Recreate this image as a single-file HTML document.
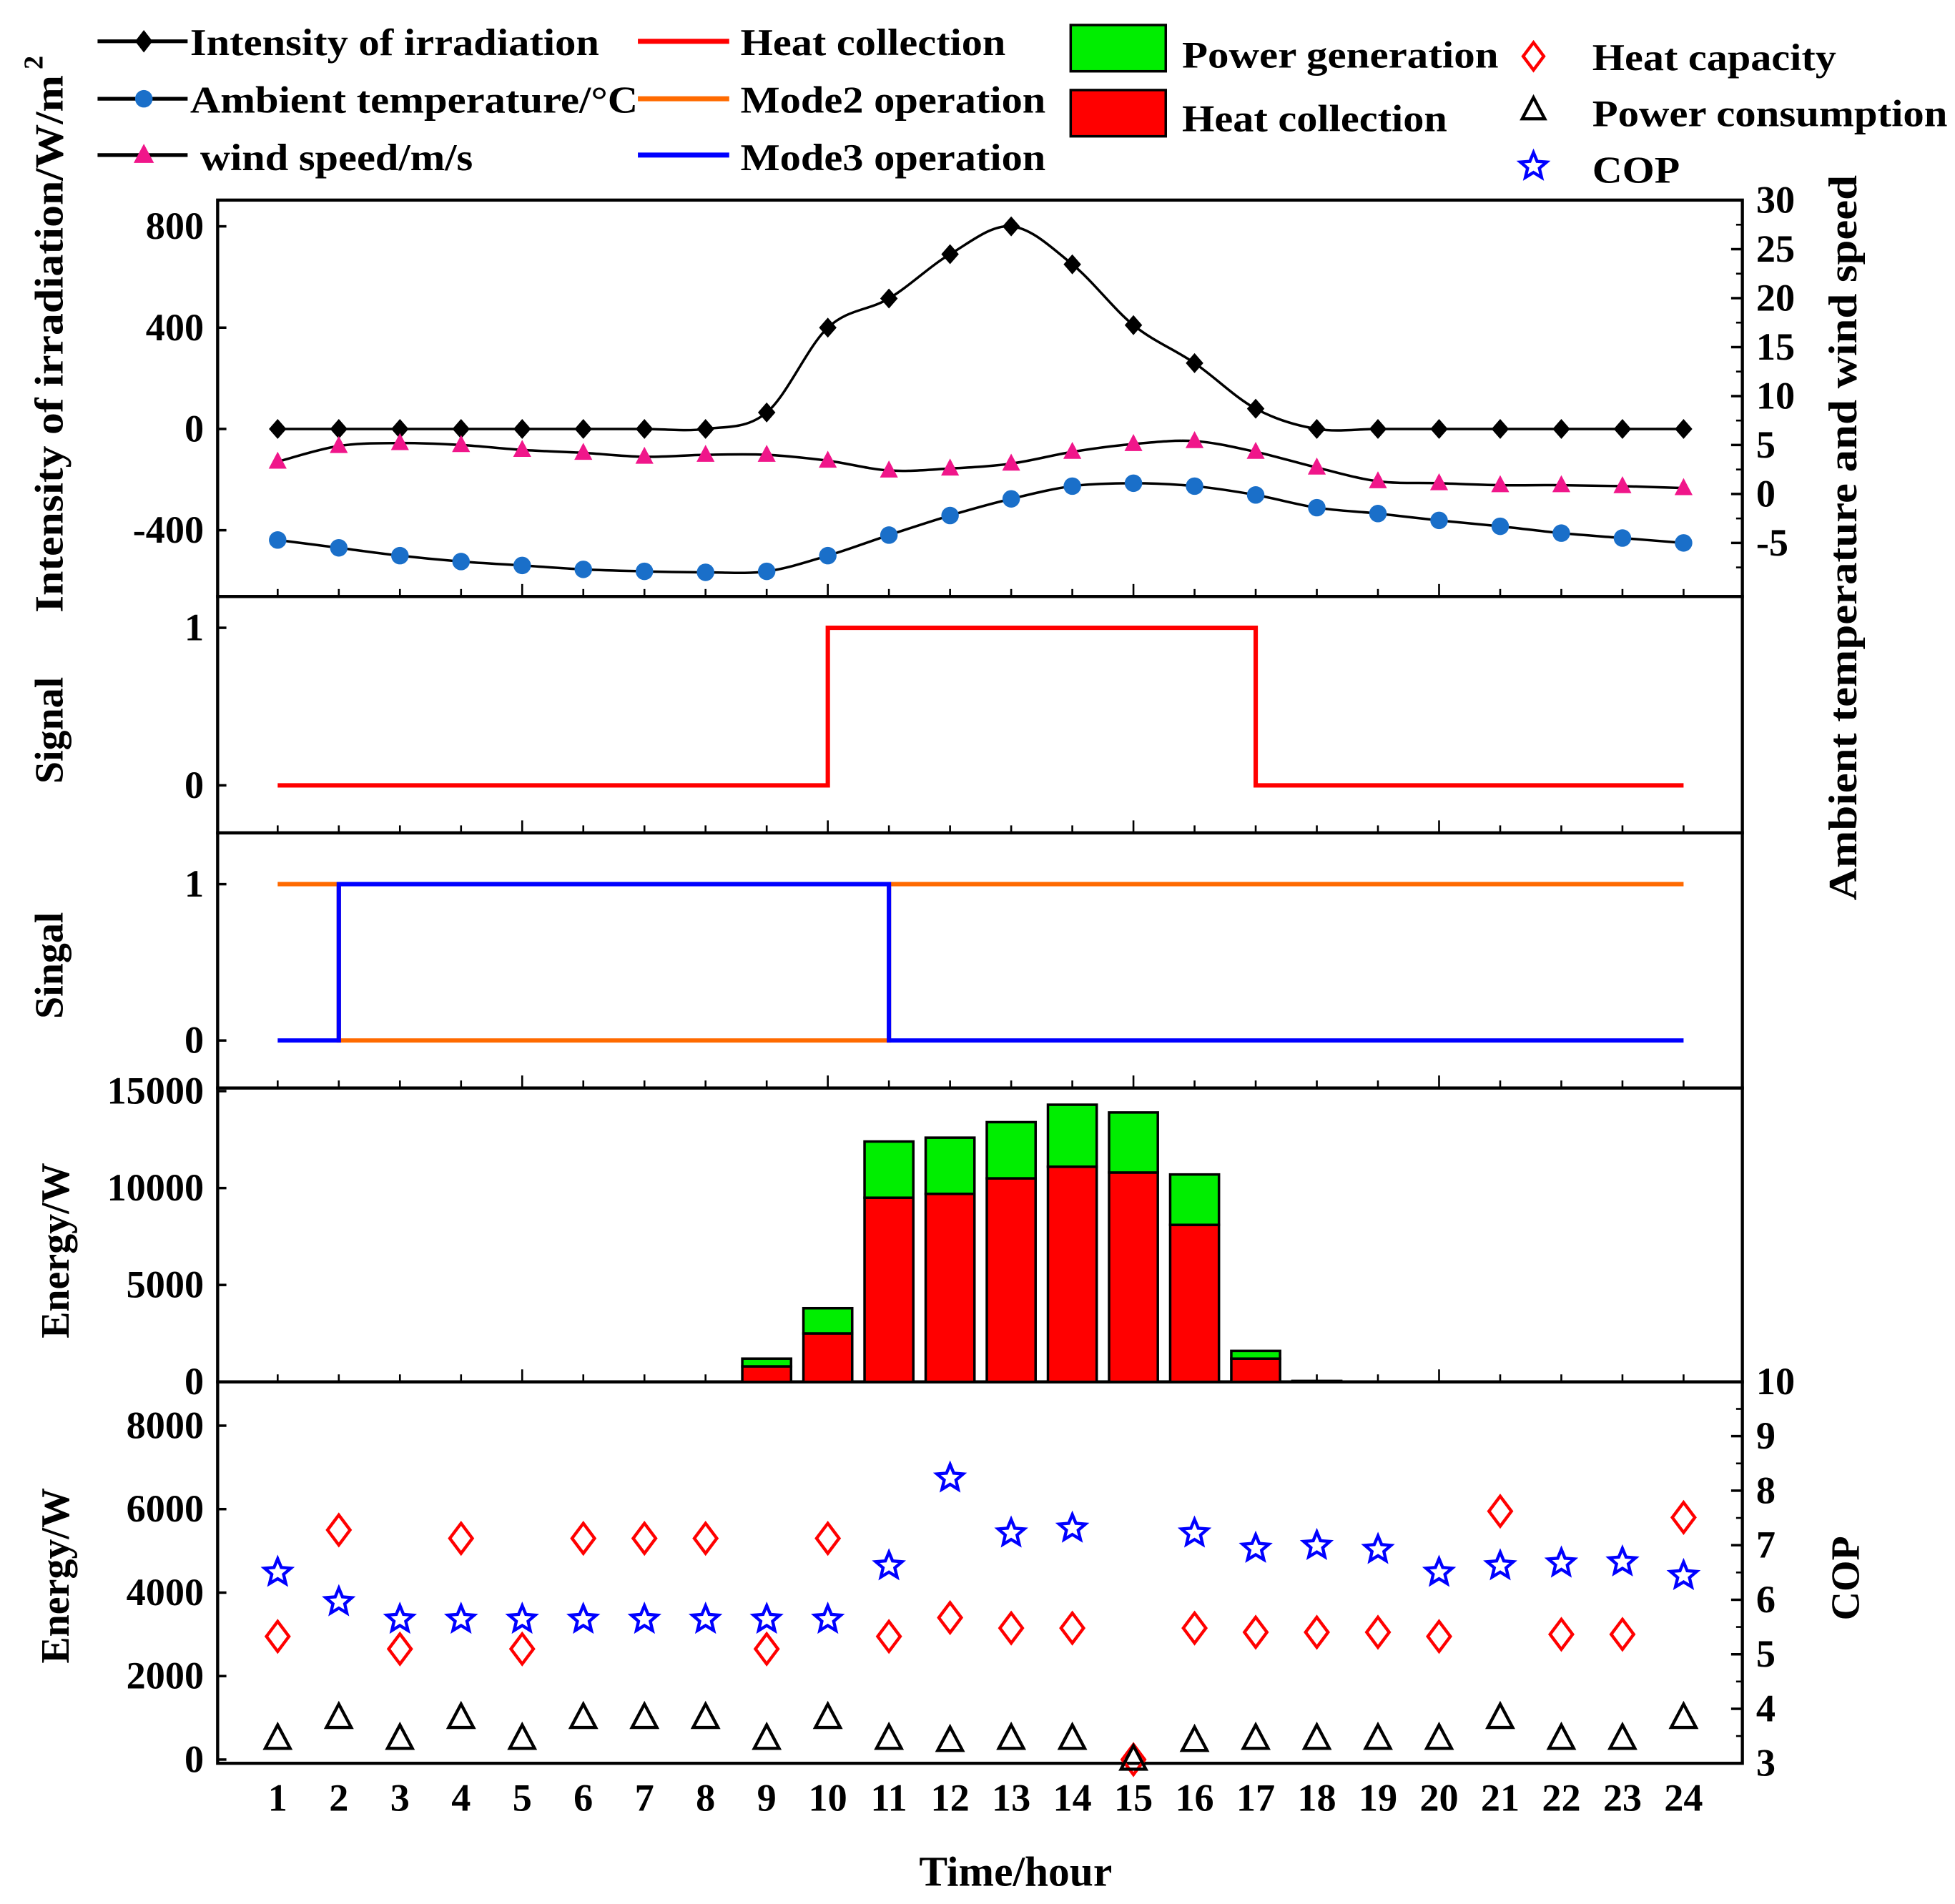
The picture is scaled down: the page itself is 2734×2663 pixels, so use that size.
<!DOCTYPE html>
<html><head><meta charset="utf-8"><style>
html,body{margin:0;padding:0;background:#fff;}
svg{display:block;}
text{font-family:"Liberation Serif",serif;font-weight:bold;}
</style></head><body>
<svg id="chart" xmlns="http://www.w3.org/2000/svg" width="2734" height="2663" viewBox="0 0 1563 1522.5" preserveAspectRatio="none">
<g id="g"></g>
</svg>
<script>
const hours = [1,2,3,4,5,6,7,8,9,10,11,12,13,14,15,16,17,18,19,20,21,22,23,24];
const irradiation = [0,0,0,0,0,0,0,0,65,400,515,690,800,650,410,260,80,0,0,0,0,0,0,0];
const temperature = [-4.7,-5.5,-6.3,-6.9,-7.3,-7.7,-7.9,-8.0,-7.9,-6.3,-4.2,-2.2,-0.5,0.8,1.1,0.8,-0.1,-1.4,-2.0,-2.7,-3.3,-4.0,-4.5,-5.0];
const windSpeed = [3.3,4.9,5.2,5.0,4.5,4.2,3.8,4.0,4.0,3.4,2.4,2.6,3.1,4.3,5.1,5.4,4.3,2.7,1.3,1.1,0.9,0.9,0.8,0.6];
const heatSignal = [0,0,0,0,0,0,0,0,0,1,1,1,1,1,1,1,0,0,0,0,0,0,0,0];
const mode2Signal = [1,0,0,0,0,0,0,0,0,0,1,1,1,1,1,1,1,1,1,1,1,1,1,1];
const mode3Signal = [0,1,1,1,1,1,1,1,1,1,0,0,0,0,0,0,0,0,0,0,0,0,0,0];
const heatCollection = [0,0,0,0,0,0,0,0,800,2500,9500,9700,10500,11100,10800,8100,1200,30,0,0,0,0,0,0];
const powerGeneration = [0,0,0,0,0,0,0,0,400,1300,2900,2900,2900,3200,3100,2600,400,20,0,0,0,0,0,0];
const heatCapacity = [2950,5500,2650,5300,2650,5300,5300,5300,2650,5300,2950,3400,3150,3150,0,3150,3050,3050,3050,2950,5950,3000,3000,5800];
const powerConsumption = [500,1000,500,1000,500,1000,1000,1000,500,1000,500,450,500,500,0,450,500,500,500,500,1000,500,500,1000];
const cop = [6.5,5.96,5.64,5.64,5.64,5.64,5.64,5.64,5.64,5.64,6.62,8.23,7.22,7.31,null,7.22,6.94,6.99,6.92,6.5,6.62,6.67,6.69,6.44];
const irrTicks = [800,400,0,-400];
const tempTicks = [30,25,20,15,10,5,0,-5];
const energyTicks1 = [15000,10000,5000,0];
const energyTicks2 = [8000,6000,4000,2000,0];
const copTicks = [10,9,8,7,6,5,4,3];

const NS='http://www.w3.org/2000/svg';
const G=document.getElementById('g');
function el(tag,attrs,parent){const e=document.createElementNS(NS,tag);for(const k in attrs)e.setAttribute(k,attrs[k]);(parent||G).appendChild(e);return e;}
const L=174,R=1393;
const P1=[160,477],P2=[477,666],P3=[666,870],P4=[870,1105],P5=[1105,1410];
const X=h=>222+(h-1)*(1346-222)/23;
const yIrr=v=>343-v*81/400;
const yTemp=v=>395-v*7.83;
const ySig2=v=>628-v*126;
const ySig3=v=>832-v*125;
const yE1=v=>1105-v*77.5/5000;
const yE2=v=>1407-v*66.75/2000;
const yCop=v=>1410-(v-3)*43.6;

function txt(s,x,y,size,anchor,name,extra){const t=el('text',Object.assign({x:x,y:y,'font-size':size,'text-anchor':anchor||'middle'},extra||{}));t.textContent=s;


return t;}
function smooth(pts){let d='M'+pts[0][0]+','+pts[0][1];for(let i=0;i<pts.length-1;i++){const p0=pts[i-1]||pts[i],p1=pts[i],p2=pts[i+1],p3=pts[i+2]||p2;const c1=[p1[0]+(p2[0]-p0[0])/6,p1[1]+(p2[1]-p0[1])/6],c2=[p2[0]-(p3[0]-p1[0])/6,p2[1]-(p3[1]-p1[1])/6];d+=' C'+c1+' '+c2+' '+p2;}return d;}
function stepPath(vals,yf){let d='';vals.forEach((v,i)=>{const x=X(hours[i]),y=yf(v);if(i===0)d='M'+x+','+y;else{d+=' L'+x+','+yf(vals[i-1])+' L'+x+','+y;}});return d;}
function diamond(x,y,r){return `M${x},${y-r} L${x+r*0.75},${y} L${x},${y+r} L${x-r*0.75},${y} Z`;}
function star(x,y,r){let d='';for(let i=0;i<10;i++){const a=-Math.PI/2+i*Math.PI/5,rr=i%2?r*0.45:r;d+=(i?'L':'M')+(x+rr*Math.cos(a)).toFixed(1)+','+(y+rr*Math.sin(a)).toFixed(1);}return d+'Z';}
function tri(x,y,r){return `M${x},${y-r} L${x+r*0.9},${y+r*0.7} L${x-r*0.9},${y+r*0.7} Z`;}

[P1,P2,P3,P4,P5].forEach((p,i)=>{
  const r=el('rect',{x:L,y:p[0],width:R-L,height:p[1]-p[0],fill:'none',stroke:'#000','stroke-width':2.5});
  
  
  if(i<4){hours.forEach(h=>{const len=h%5===0?10:6;el('line',{x1:X(h),x2:X(h),y1:p[1],y2:p[1]-len,stroke:'#000','stroke-width':1.5});});}
});
irrTicks.forEach(v=>{el('line',{x1:L,x2:L+7,y1:yIrr(v),y2:yIrr(v),stroke:'#000','stroke-width':2});txt(String(v),163,yIrr(v)+10,31,'end','irradiation-tick-label');});
tempTicks.forEach(v=>{el('line',{x1:R,x2:R-9,y1:yTemp(v),y2:yTemp(v),stroke:'#000','stroke-width':2});el('line',{x1:R,x2:R-5,y1:yTemp(v-2.5),y2:yTemp(v-2.5),stroke:'#000','stroke-width':1.5});txt(String(v),1404,yTemp(v)+10,31,'start','temperature-tick-label');});
const irrPts=hours.map((h,i)=>[X(h),yIrr(irradiation[i])]);
const tPts=hours.map((h,i)=>[X(h),yTemp(temperature[i])]);
const wPts=hours.map((h,i)=>[X(h),yTemp(windSpeed[i])]);
[[irrPts,'irradiation-line'],[wPts,'wind-speed-line'],[tPts,'temperature-line']].forEach(a=>{const p=el('path',{d:smooth(a[0]),fill:'none',stroke:'#000','stroke-width':2});

});
irrPts.forEach(p=>{const m=el('path',{d:`M${p[0]},${p[1]-8} L${p[0]+7},${p[1]} L${p[0]},${p[1]+8} L${p[0]-7},${p[1]} Z`,fill:'#000'});

});
wPts.forEach(p=>{const m=el('path',{d:tri(p[0],p[1],8),fill:'#f0168a'});

});
tPts.forEach(p=>{const m=el('circle',{cx:p[0],cy:p[1],r:7,fill:'#1a6fc9'});

});
[1,0].forEach(v=>{el('line',{x1:L,x2:L+7,y1:ySig2(v),y2:ySig2(v),stroke:'#000','stroke-width':2});txt(String(v),163,ySig2(v)+10,31,'end','signal-tick-label');});
let sp=el('path',{d:stepPath(heatSignal,ySig2),fill:'none',stroke:'#ff0000','stroke-width':3.5});


[1,0].forEach(v=>{el('line',{x1:L,x2:L+7,y1:ySig3(v),y2:ySig3(v),stroke:'#000','stroke-width':2});txt(String(v),163,ySig3(v)+10,31,'end','singal-tick-label');});
sp=el('path',{d:stepPath(mode2Signal,ySig3),fill:'none',stroke:'#ff6a00','stroke-width':3.5});


sp=el('path',{d:stepPath(mode3Signal,ySig3),fill:'none',stroke:'#0000ff','stroke-width':3.5});


energyTicks1.forEach(v=>{el('line',{x1:L,x2:L+7,y1:yE1(v),y2:yE1(v),stroke:'#000','stroke-width':2});txt(String(v),163,yE1(v)+10,31,'end','energy-tick-label');});
hours.forEach((h,i)=>{const hc=heatCollection[i],pg=powerGeneration[i];if(hc+pg<=0)return;const x=X(h)-19.5;
 const b1=el('rect',{x:x,y:yE1(hc),width:39,height:yE1(0)-yE1(hc),fill:'#ff0000',stroke:'#000','stroke-width':2});
 
 
 const b2=el('rect',{x:x,y:yE1(hc+pg),width:39,height:yE1(hc)-yE1(hc+pg),fill:'#00ee00',stroke:'#000','stroke-width':2});
 
 });
energyTicks2.forEach(v=>{el('line',{x1:L,x2:L+7,y1:yE2(v),y2:yE2(v),stroke:'#000','stroke-width':2});txt(String(v),163,yE2(v)+10,31,'end','energy-tick-label');});
copTicks.forEach(v=>{el('line',{x1:R,x2:R-9,y1:yCop(v),y2:yCop(v),stroke:'#000','stroke-width':2});if(v>3)el('line',{x1:R,x2:R-5,y1:yCop(v-0.5),y2:yCop(v-0.5),stroke:'#000','stroke-width':1.5});txt(String(v),1404,yCop(v)+10,31,'start','cop-tick-label');});
hours.forEach((h,i)=>{
 const x=X(h);
 const d=el('path',{d:diamond(x,yE2(heatCapacity[i]),12),fill:'none',stroke:'#ff0000','stroke-width':2.5});
 
 
 const t=el('path',{d:tri(x,yE2(powerConsumption[i]),11),fill:'none',stroke:'#000','stroke-width':2.5});
 
 
 if(cop[i]!==null){const s=el('path',{d:star(x,yCop(cop[i]),11),fill:'none',stroke:'#0000ff','stroke-width':2.5});
 
 }
 txt(String(h),x,1448,31,'middle','x-tick-label');
});
txt('Time/hour',812,1508,34,'middle','x-axis-title');
txt('Intensity of irradiation/W/m',0,0,32,'middle','left-axis-title-irradiation',{transform:'translate(50,275) rotate(-90)',textLength:430,lengthAdjust:'spacingAndGlyphs'});
txt('2',0,0,22,'middle','left-axis-title-superscript',{transform:'translate(34,50) rotate(-90)'});
txt('Signal',0,0,32,'middle','signal-axis-title',{transform:'translate(50,584) rotate(-90)'});
txt('Singal',0,0,32,'middle','singal-axis-title',{transform:'translate(50,772) rotate(-90)'});
txt('Energy/W',0,0,32,'middle','energy-axis-title-top',{transform:'translate(55,1000) rotate(-90)'});
txt('Energy/W',0,0,32,'middle','energy-axis-title-bottom',{transform:'translate(55,1260) rotate(-90)'});
txt('Ambient temperature and wind speed',0,0,32,'middle','right-axis-title',{transform:'translate(1484,430) rotate(-90)',textLength:580,lengthAdjust:'spacingAndGlyphs'});
txt('COP',0,0,32,'middle','cop-axis-title',{transform:'translate(1486,1262) rotate(-90)'});
function leg(name){const g=el('g',{});return g;}
let lg=leg('legend-irradiation');el('line',{x1:78,x2:150,y1:33,y2:33,stroke:'#000','stroke-width':3},lg);el('path',{d:'M115,24 L122,33 L115,42 L108,33 Z',fill:'#000'},lg);
lg=leg('legend-temperature');el('line',{x1:78,x2:150,y1:79,y2:79,stroke:'#000','stroke-width':3},lg);el('circle',{cx:115,cy:79,r:7,fill:'#1a6fc9'},lg);
lg=leg('legend-wind');el('line',{x1:78,x2:150,y1:124,y2:124,stroke:'#000','stroke-width':3},lg);el('path',{d:tri(115,124,9),fill:'#f0168a'},lg);
txt('Intensity of irradiation',152,44,30,'start','legend-label',{textLength:327,lengthAdjust:'spacingAndGlyphs'});
txt('Ambient temperature/\u00b0C',152,90,30,'start','legend-label',{textLength:358,lengthAdjust:'spacingAndGlyphs'});
txt('wind speed/m/s',160,136,30,'start','legend-label',{textLength:218,lengthAdjust:'spacingAndGlyphs'});
[['legend-heat-collection-line','#ff0000',33],['legend-mode2','#ff6a00',79],['legend-mode3','#0000ff',124]].forEach(a=>{const l=el('line',{x1:510,x2:583,y1:a[2],y2:a[2],stroke:a[1],'stroke-width':4});

});
txt('Heat collection',592,44,30,'start','legend-label',{textLength:212,lengthAdjust:'spacingAndGlyphs'});
txt('Mode2 operation',592,90,30,'start','legend-label',{textLength:244,lengthAdjust:'spacingAndGlyphs'});
txt('Mode3 operation',592,136,30,'start','legend-label',{textLength:244,lengthAdjust:'spacingAndGlyphs'});
let r=el('rect',{x:856,y:20,width:76,height:37,fill:'#00ee00',stroke:'#000','stroke-width':2});


r=el('rect',{x:856,y:72,width:76,height:37,fill:'#ff0000',stroke:'#000','stroke-width':2});


txt('Power generation',945,54,30,'start','legend-label',{textLength:253,lengthAdjust:'spacingAndGlyphs'});
txt('Heat collection',945,105,30,'start','legend-label',{textLength:212,lengthAdjust:'spacingAndGlyphs'});
let m=el('path',{d:diamond(1226,45,11),fill:'none',stroke:'#ff0000','stroke-width':2.5});


m=el('path',{d:tri(1226,88,10),fill:'none',stroke:'#000','stroke-width':2.5});


m=el('path',{d:star(1226,133,11),fill:'none',stroke:'#0000ff','stroke-width':2.5});


txt('Heat capacity',1273,56,30,'start','legend-label',{textLength:195,lengthAdjust:'spacingAndGlyphs'});
txt('Power consumption',1273,101,30,'start','legend-label',{textLength:284,lengthAdjust:'spacingAndGlyphs'});
txt('COP',1273,146,30,'start','legend-label',{textLength:70,lengthAdjust:'spacingAndGlyphs'});
</script>
</body></html>
